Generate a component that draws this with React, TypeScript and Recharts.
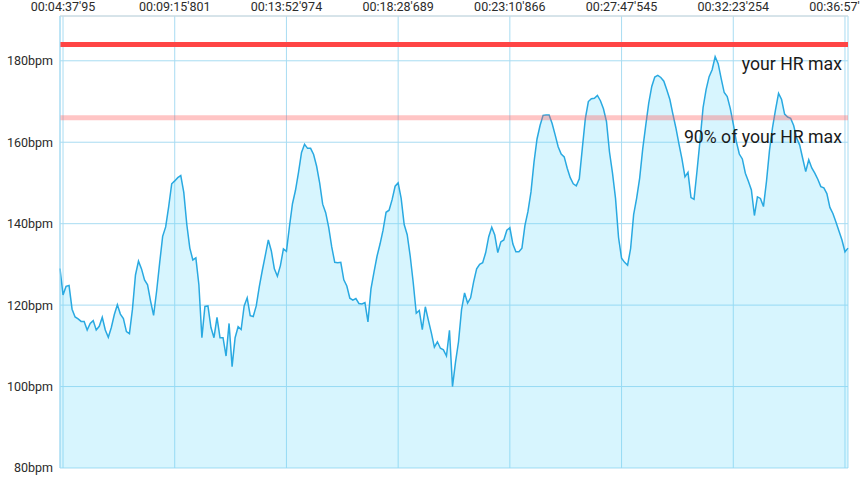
import { AreaChart, Area, XAxis, YAxis, CartesianGrid, ReferenceLine } from 'recharts'

// heart rate samples (bpm), evenly spaced over the session
const heartRate = [
  129, 122.5, 124.6, 124.8, 119, 117.1, 116.6, 116, 116, 113.9,
  115.5, 116.2, 113.9, 114.8, 117, 113.9, 112.1, 114.5, 117.7, 120.1,
  117.8, 116.7, 113.5, 113, 119, 127.4, 130.8, 128.9, 126.2, 125,
  121, 117.5, 123.4, 130.3, 136.9, 139.2, 144.2, 149.8, 150.5, 151.3,
  151.8, 147.7, 139.8, 134, 131.1, 131.6, 125, 112, 119.7, 119.8,
  114.5, 112, 117, 112, 112, 107.5, 115.5, 104.9, 112, 114.7,
  114, 119.8, 121.8, 117.4, 117.2, 119.8, 124.5, 128.5, 132.2, 136,
  133.3, 128.9, 127.1, 129.7, 133.8, 133.2, 139.3, 144.9, 148.2, 152.6,
  157.5, 159.5, 158.5, 158.5, 157, 154.1, 150, 144.8, 142.7, 139.1,
  134.3, 130.5, 130.4, 130.5, 126.2, 124.7, 121.7, 121.2, 121.6, 120.4,
  120.3, 120.6, 115.9, 124, 128.1, 132, 135, 138.4, 142.8, 143.3,
  145.9, 149.2, 150, 146.2, 139.8, 137.3, 132, 125.5, 118, 118.7,
  114, 119.6, 116.3, 113.2, 109.7, 111, 109.4, 109, 107.5, 113.8,
  100, 106, 111, 118.9, 123, 120.5, 121.8, 125.7, 128.9, 130,
  130.4, 132.9, 136.8, 139.1, 137.2, 132.9, 135.5, 136, 138.4, 139,
  135, 133.1, 133.1, 134, 139.6, 143, 147.8, 155.1, 160.8, 164.1,
  166.6, 166.7, 166.7, 164.6, 161.8, 158.9, 157.1, 156.4, 153.6, 151.3,
  149.8, 149.3, 151, 158.5, 165.8, 170, 170.7, 170.8, 171.5, 170.2,
  168.2, 165.1, 157.6, 152.4, 146.2, 136.6, 131.5, 130.5, 129.8, 133.9,
  142.2, 146.3, 151.2, 158.3, 164.1, 169.6, 173.7, 176, 176.4, 175.9,
  175, 172.8, 170.5, 166.9, 163.5, 159.6, 155.9, 151.5, 152.6, 146.4,
  146, 153, 160.5, 168.5, 172.9, 176.1, 177.8, 181, 179.3, 175.6,
  172.2, 171.2, 168.3, 164.5, 160.2, 157.1, 155.9, 152.4, 150.4, 148.3,
  142, 146.6, 146.2, 144.2, 150.4, 158, 163.6, 168, 172, 170.5,
  166.9, 166.2, 165.9, 164.1, 161, 159.3, 156, 152.8, 155.7, 153.7,
  152.4, 150.9, 149.1, 148.8, 147.4, 144, 142.5, 140.4, 138.2, 136,
  133.1, 134,
]

const timeTickIndex = [1, 38, 75, 112, 149, 186, 223, 260]
const timeTickLabels = [
  "00:04:37'95",
  "00:09:15'801",
  "00:13:52'974",
  "00:18:28'689",
  "00:23:10'866",
  "00:27:47'545",
  "00:32:23'254",
  "00:36:57'593",
]
const bpmTicks = [80, 100, 120, 140, 160, 180]

const HR_MAX = 184
const HR_90 = 166

const data = heartRate.map((bpm, i) => ({ i, bpm }))

function LineLabel({ viewBox, text }: any) {
  if (!viewBox) return null
  return (
    <text
      x={viewBox.x + viewBox.width - 6}
      y={viewBox.y + 25.5}
      textAnchor="end"
      fontSize={17.7}
      fontFamily="Roboto, sans-serif"
      fill="#1a1a1a"
    >
      {text}
    </text>
  )
}

export default function App() {
  return (
    <div style={{ position: 'absolute', left: 0, top: 0 }}>
      <AreaChart
        width={860}
        height={478}
        data={data}
        margin={{ top: 0, right: 12, bottom: 10, left: 0 }}
        style={{ fontFamily: 'Roboto, sans-serif' }}
      >
        <CartesianGrid stroke="#a8dcf2" />
        <XAxis
          dataKey="i"
          type="number"
          orientation="top"
          domain={[0, heartRate.length - 1]}
          ticks={timeTickIndex}
          interval={0}
          height={16}
          tickLine={false}
          tickSize={3}
          tickMargin={2}
          axisLine={{ stroke: '#dadada' }}
          tick={{ fontSize: 12.5, fill: '#2b2b2b' }}
          tickFormatter={v => timeTickLabels[timeTickIndex.indexOf(v)]}
        />
        <YAxis
          domain={[80, 191]}
          ticks={bpmTicks}
          width={60}
          tickLine={false}
          tickSize={5}
          tickMargin={2}
          axisLine={{ stroke: '#a8dcf2' }}
          tick={{ fontSize: 12.5, fill: '#2b2b2b' }}
          tickFormatter={v => `${v}bpm`}
        />
        <Area
          type="linear"
          dataKey="bpm"
          stroke="#29a9e1"
          strokeWidth={1.5}
          fill="#60d8fa"
          fillOpacity={0.25}
          isAnimationActive={false}
        />
        <ReferenceLine y={HR_MAX} stroke="#ff4545" strokeWidth={5} label={<LineLabel text="your HR max" />} />
        <ReferenceLine
          y={HR_90}
          stroke="#ff5a5a"
          strokeOpacity={0.35}
          strokeWidth={5}
          label={<LineLabel text="90% of your HR max" />}
        />
      </AreaChart>
    </div>
  )
}
